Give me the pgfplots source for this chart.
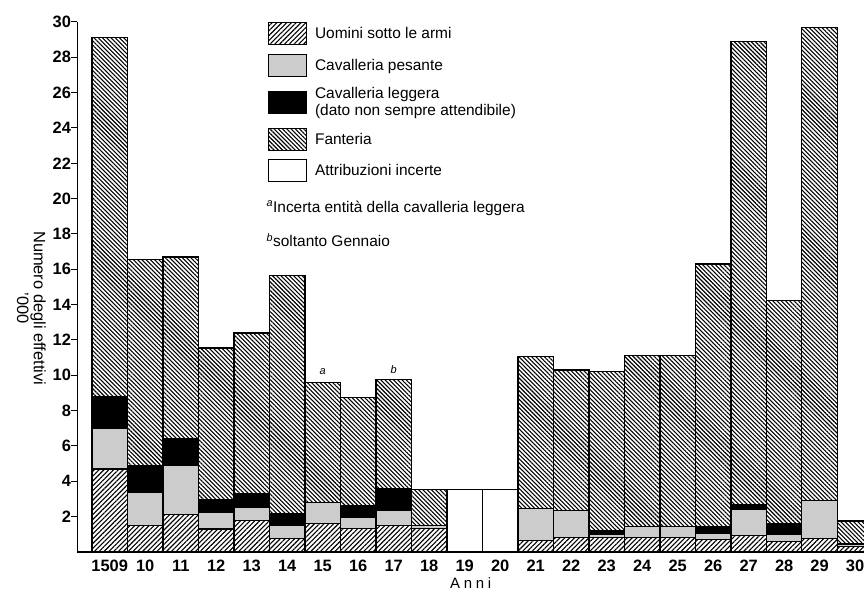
\documentclass[border=0pt]{standalone}
\usepackage{fontspec}
\setmainfont{Liberation Sans}
\newfontfamily\spacedfont[LetterSpace=25]{Liberation Sans}
\usepackage{pgfplots}
\usepackage{pgfplotstable}
\pgfplotsset{compat=1.18}
\usetikzlibrary{patterns.meta}

% migliaia di effettivi per anno: uomini, cav. pesante, cav. leggera, fanteria, incerte
\pgfplotstableread{
x uomini pesante leggera fanteria incerte
0 4.7 2.3 1.8 20.3 0
1 1.5 1.9 1.5 11.65 0
2 2.1 2.8 1.5 10.3 0
3 1.3 0.95 0.7 8.6 0
4 1.8 0.7 0.8 9.1 0
5 0.75 0.75 0.65 13.5 0
6 1.6 1.2 0 6.8 0
7 1.35 0.6 0.7 6.1 0
8 1.5 0.85 1.25 6.15 0
9 1.35 0.15 0 2.05 0
10 0 0 0 0 3.55
11 0 0 0 0 3.55
12 0.65 1.8 0 8.6 0
13 0.8 1.55 0 7.95 0
14 0.8 0.2 0.2 9.0 0
15 0.8 0.65 0 9.65 0
16 0.8 0.65 0 9.65 0
17 0.7 0.35 0.4 14.85 0
18 0.95 1.45 0.3 26.2 0
19 0.6 0.4 0.6 12.65 0
20 0.75 2.15 0 26.8 0
21 0.3 0.15 0 1.3 0
}\data

\pgfplotsset{
  barbox/.style={draw=black, line width=1.2bp,
    legend image code/.code={\draw[##1,line width=1.2bp] (0bp,-11bp) rectangle (38bp,11bp);}},
}

\begin{document}
\begin{tikzpicture}
\begin{axis}[
  scale only axis,
  width=786.5bp, height=530bp,
  ybar stacked, bar width=1,
  xmin=-0.908, xmax=21.25,
  ymin=0, ymax=30,
  axis x line=bottom, axis y line=left,
  axis line style={-, line width=1.4bp},
  ytick={2,4,...,30},
  xtick={0,...,21},
  xticklabels={1509,10,11,12,13,14,15,16,17,18,19,20,21,22,23,24,25,26,27,28,29,30},
  major x tick style={draw=none},
  tick align=outside, major tick length=6bp,
  major y tick style={line width=1bp, black},
  /pgf/number format/assume math mode=true,
  tick label style={font=\fontsize{16.5}{18}\selectfont\bfseries},
  xticklabel style={yshift=1bp},
  yticklabel style={xshift=3bp},
  xlabel={\spacedfont Anni},
  xlabel style={font=\fontsize{15}{16}\selectfont, yshift=1bp},
  ylabel={Numero degli effettivi\\'000},
  ylabel style={rotate=180, align=center, font=\fontsize{16.5}{17}\selectfont,
    at={(ticklabel cs:0.46)}},
  legend style={at={(0.238,1.004)}, anchor=north west, draw=none, fill=none,
    font=\fontsize{15.5}{17}\selectfont, row sep=8.5bp, column sep=6bp,
    cells={align=left}},
  legend cell align=left,
]
\addplot[barbox, pattern={Lines[angle=45,distance=3.4bp,line width=1.1bp]}] table[x=x,y=uomini]{\data};
\addplot[barbox, fill=black!20] table[x=x,y=pesante]{\data};
\addplot[barbox, fill=black] table[x=x,y=leggera]{\data};
\addplot[barbox, pattern={Lines[angle=-45,distance=3bp,line width=1.1bp]}] table[x=x,y=fanteria]{\data};
\addplot[barbox, fill=white] table[x=x,y=incerte]{\data};
\legend{Uomini sotto le armi, Cavalleria pesante,
  {Cavalleria leggera\\(dato non sempre attendibile)}, Fanteria, Attribuzioni incerte}
\node[font=\itshape\fontsize{11}{12}\selectfont] at (axis cs:6,10.2) {a};
\node[font=\itshape\fontsize{11}{12}\selectfont] at (axis cs:8,10.3) {b};
\node[anchor=west, font=\fontsize{15.5}{17}\selectfont] at (rel axis cs:0.236,0.649)
  {\textsuperscript{\itshape a}Incerta entità della cavalleria leggera};
\node[anchor=west, font=\fontsize{15.5}{17}\selectfont] at (rel axis cs:0.236,0.589)
  {\textsuperscript{\itshape b}soltanto Gennaio};
\end{axis}
\pgfresetboundingbox
\path (current axis.south west) ++(-77.5bp,-41bp) rectangle ++(864bp,593bp);
\end{tikzpicture}
\end{document}
